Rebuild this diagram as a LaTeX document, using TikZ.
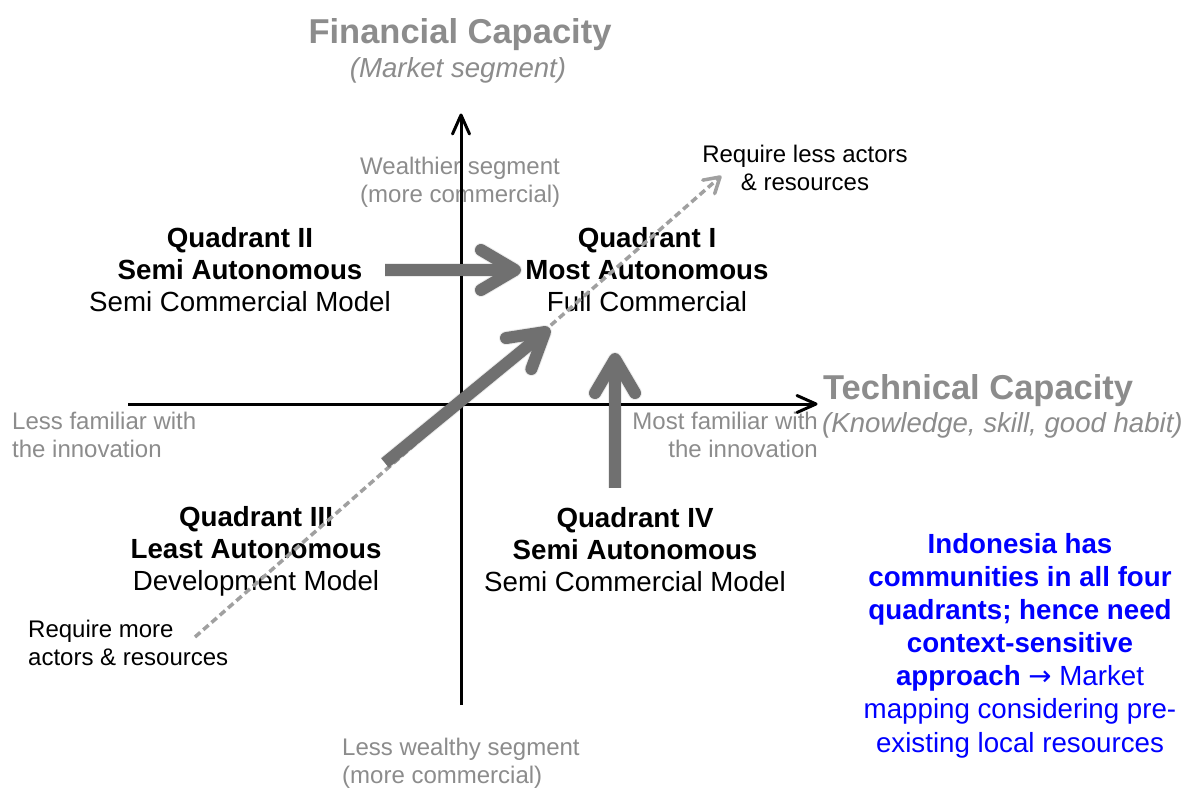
\documentclass[tikz,border=0pt]{standalone}
\usepackage{fontspec}
\setmainfont{Liberation Sans}
\newfontfamily\symfont{DejaVu Sans}
\usetikzlibrary{calc}
\definecolor{arrowgray}{HTML}{707070}
\definecolor{dashgray}{HTML}{A0A0A0}
\definecolor{labelgray}{HTML}{8C8C8C}
\definecolor{noteblue}{HTML}{0000FF}
\tikzset{
  txt/.style={inner sep=0pt, anchor=base, align=center},
  headtxt/.style={txt, text=labelgray, font=\fontsize{34.5}{40}\selectfont\bfseries},
  subtxt/.style={txt, text=labelgray, font=\fontsize{27.6}{32}\selectfont\itshape},
  quadtxt/.style={txt, font=\fontsize{27.7}{32}\selectfont},
  graytxt/.style={txt, text=labelgray, font=\fontsize{24}{28}\selectfont},
  smalltxt/.style={txt, font=\fontsize{24}{28}\selectfont},
  bluetxt/.style={txt, text=noteblue, font=\fontsize{27.7}{33.1}\selectfont},
  axisline/.style={draw=black, line width=3pt},
  axishead/.style={draw=black, line width=3pt, line cap=round, line join=round},
  fatshaft/.style={draw=arrowgray, line width=12pt},
  fathead/.style={draw=arrowgray, line width=12pt, line cap=round, line join=round},
  fatshadow/.style={draw=black, opacity=0.08, line width=14pt},
  dashline/.style={draw=dashgray, line width=3.5pt, dash pattern=on 7pt off 4pt},
  dashhead/.style={draw=dashgray, line width=3.5pt, line cap=round, line join=round},
}
\begin{document}
\begin{tikzpicture}[x=1pt,y=-1pt]
\useasboundingbox (0,0) rectangle (1190,787);
\fill[white] (0,0) rectangle (1190,787);

% ---- texts (anchor = baseline of last line) ----
\node[headtxt] (fin) at (460,43) {Financial Capacity};
\node[subtxt] (finsub) at (458,77) {(Market segment)};
\node[headtxt, anchor=base west] (tech) at (823,399) {Technical Capacity};
\node[subtxt, anchor=base west] (techsub) at (822,432) {(Knowledge, skill, good habit)};

\node[graytxt, anchor=base west, align=left] (wealthy) at (360,202) {Wealthier segment\\(more commercial)};
\node[graytxt, anchor=base west, align=left] (lesswealthy) at (342,783) {Less wealthy segment\\(more commercial)};
\node[graytxt, anchor=base west, align=left] (lessfam) at (12,457) {Less familiar with\\the innovation};
\node[graytxt, anchor=base east, align=right] (mostfam) at (818,457) {Most familiar with\\the innovation};

\node[smalltxt] (reqless) at (805,190) {Require less actors\\\& resources};
\node[smalltxt, anchor=base west, align=left] (reqmore) at (28,665) {Require more\\actors \& resources};

\node[quadtxt] (q2) at (240,311) {\textbf{Quadrant II}\\\textbf{Semi Autonomous}\\Semi Commercial Model};
\node[quadtxt] (q1) at (647,311) {\textbf{Quadrant I}\\\textbf{Most Autonomous}\\Full Commercial};
\node[quadtxt] (q3) at (256,590) {\textbf{Quadrant III}\\\textbf{Least Autonomous}\\Development Model};
\node[quadtxt] (q4) at (635,591) {\textbf{Quadrant IV}\\\textbf{Semi Autonomous}\\Semi Commercial Model};

\node[bluetxt] (note) at (1020,752) {\textbf{Indonesia has}\\\textbf{communities in all four}\\\textbf{quadrants; hence need}\\\textbf{context-sensitive}\\\textbf{approach} {\symfont\fontsize{27.7}{33.1}\selectfont →} Market\\mapping considering pre-\\existing local resources};

% ---- axes ----
\coordinate (vbot) at (461,705);
\coordinate (vtop) at (461,115);
\coordinate (hleft) at (128,404);
\coordinate (hright) at (816,404);
\draw[axisline] (vbot) -- (vtop);
\draw[axishead] ($(vtop)+(-8.5,19)$) -- (vtop) -- ($(vtop)+(8.5,19)$);
\draw[axisline] (hleft) -- (hright);
\draw[axishead] ($(hright)+(-19,-8.5)$) -- (hright) -- ($(hright)+(-19,8.5)$);

% ---- dashed diagonal ----
\coordinate (ds) at (195,637);
\coordinate (de) at (720,177);
\coordinate (deb) at ($(de)!15pt!(ds)$);
\draw[dashline] (ds) -- (de);
\draw[dashhead] ($(deb)!9pt!90:(de)$) -- (de) -- ($(deb)!9pt!-90:(de)$);

% ---- fat arrows ----
% horizontal: Quadrant II -> Quadrant I
\coordinate (h1) at (385,270);
\coordinate (h2) at (515,270);
% diagonal: Quadrant III -> Quadrant I
\coordinate (d1) at (385,463);
\coordinate (d2) at (545,332);
% vertical: Quadrant IV -> Quadrant I
\coordinate (v1) at (615,488);
\coordinate (v2) at (615,359);

\foreach \a/\b in {h1/h2, d1/d2, v1/v2}{
  \coordinate (tb) at ($(\b)!34pt!(\a)$);
  \draw[fatshadow, shift={(1.5pt,-2.5pt)}] (\a) -- (\b);
  \draw[fatshadow, line cap=round, line join=round, shift={(1.5pt,-2.5pt)}] ($(tb)!20pt!90:(\b)$) -- (\b) -- ($(tb)!20pt!-90:(\b)$);
}
\foreach \a/\b in {h1/h2, d1/d2, v1/v2}{
  \coordinate (tb) at ($(\b)!34pt!(\a)$);
  \draw[fatshaft] (\a) -- (\b);
  \draw[fathead] ($(tb)!20pt!90:(\b)$) -- (\b) -- ($(tb)!20pt!-90:(\b)$);
}
\end{tikzpicture}
\end{document}
